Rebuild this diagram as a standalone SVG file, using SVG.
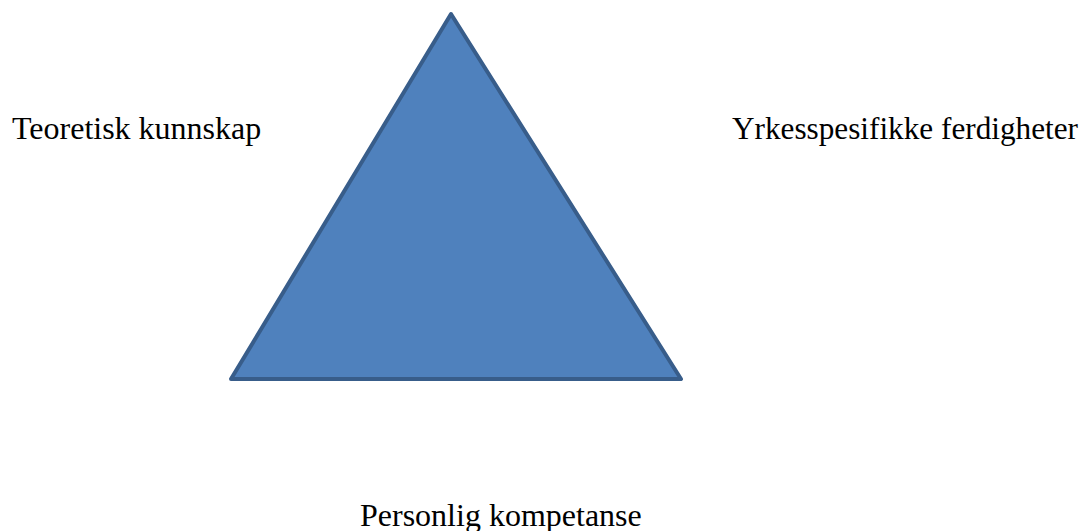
<svg xmlns="http://www.w3.org/2000/svg" width="1085" height="531" viewBox="0 0 1085 531">
<style>
.lbl{font-family:"Liberation Serif","Times New Roman",serif;font-size:32px;fill:#000}
.tri{fill:#4f81bd;stroke:#385d8a;stroke-width:4;stroke-linejoin:round}
</style>
<rect width="1085" height="531" fill="#fff"/>
<g id="triangle"><polygon class="tri" points="451,14 681,379 231,379"/></g>
<g id="label-teoretisk"><text class="lbl" x="12" y="139">Teoretisk kunnskap</text></g>
<g id="label-yrkes"><text class="lbl" x="732" y="139" textLength="346" lengthAdjust="spacingAndGlyphs">Yrkesspesifikke ferdigheter</text></g>
<g id="label-personlig"><text class="lbl" x="360" y="526">Personlig kompetanse</text></g>
</svg>
